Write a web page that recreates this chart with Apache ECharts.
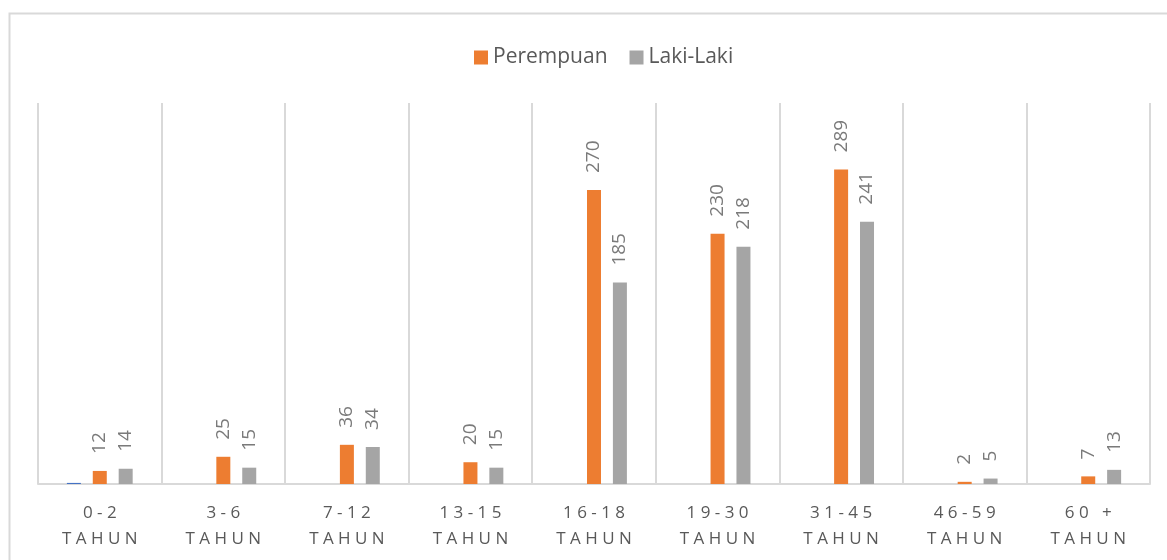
<!DOCTYPE html>
<html>
<head>
<meta charset="utf-8">
<script src="https://cdn.jsdelivr.net/npm/echarts@6/dist/echarts.min.js"></script>
<style>
  html, body { margin: 0; padding: 0; background: #fff; }
  #main { width: 1167px; height: 560px; }
</style>
</head>
<body>
<div id="main"></div>
<script>
// kelompok usia
const categories = ['0-2', '3-6', '7-12', '13-15', '16-18', '19-30', '31-45', '46-59', '60 +'];
const perempuan = [12, 25, 36, 20, 270, 230, 289, 2, 7];
const lakiLaki = [14, 15, 34, 15, 185, 218, 241, 5, 13];
// seri tersembunyi (tidak ada di legenda), hanya terlihat sedikit di 0-2
const lainnya = [1, 0, 0, 0, 0, 0, 0, 0, 0];

const spaced = s => s.split('').join(' ');

const chart = echarts.init(document.getElementById('main'));

const valueLabel = {
    show: true,
    position: 'top',
    rotate: 90,
    align: 'left',
    verticalAlign: 'middle',
    distance: 17,
    color: '#7a7a7a',
    fontSize: 19,
    fontFamily: 'Open Sans'
};

chart.setOption({
    animation: false,
    textStyle: { fontFamily: 'Open Sans' },
    graphic: [{
        type: 'rect',
        shape: { x: 9.5, y: 13.5, width: 1200, height: 600 },
        style: { fill: 'none', stroke: '#d9d9d9', lineWidth: 2 },
        silent: true
    }],
    legend: {
        top: 42,
        left: 469,
        data: ['Perempuan', 'Laki-Laki'],
        itemWidth: 14,
        itemHeight: 14,
        itemGap: 22,
        icon: 'rect',
        textStyle: { color: '#595959', fontSize: 21, fontFamily: 'Open Sans' }
    },
    grid: { left: 38, right: 17, top: 103, bottom: 76 },
    xAxis: {
        type: 'category',
        data: categories,
        axisTick: { show: false },
        axisLine: { lineStyle: { color: '#d9d9d9', width: 2 } },
        splitLine: { show: true, lineStyle: { color: '#d9d9d9', width: 2 } },
        axisLabel: {
            color: '#595959',
            fontSize: 17,
            lineHeight: 26,
            margin: 16,
            formatter: v => spaced(v) + '\n' + spaced('TAHUN')
        }
    },
    yAxis: {
        type: 'value',
        min: 0,
        max: 350,
        show: false
    },
    series: [
        {
            name: 'Lainnya',
            type: 'bar',
            data: lainnya,
            barWidth: 14,
            barGap: '85%',
            barCategoryGap: '48%',
            itemStyle: { color: '#4472c4' }
        },
        {
            name: 'Perempuan',
            type: 'bar',
            data: perempuan,
            barWidth: 14,
            barGap: '85%',
            itemStyle: { color: '#ed7d31' },
            label: valueLabel
        },
        {
            name: 'Laki-Laki',
            type: 'bar',
            data: lakiLaki,
            barWidth: 14,
            barGap: '85%',
            itemStyle: { color: '#a5a5a5' },
            label: valueLabel
        }
    ]
});
</script>
</body>
</html>
